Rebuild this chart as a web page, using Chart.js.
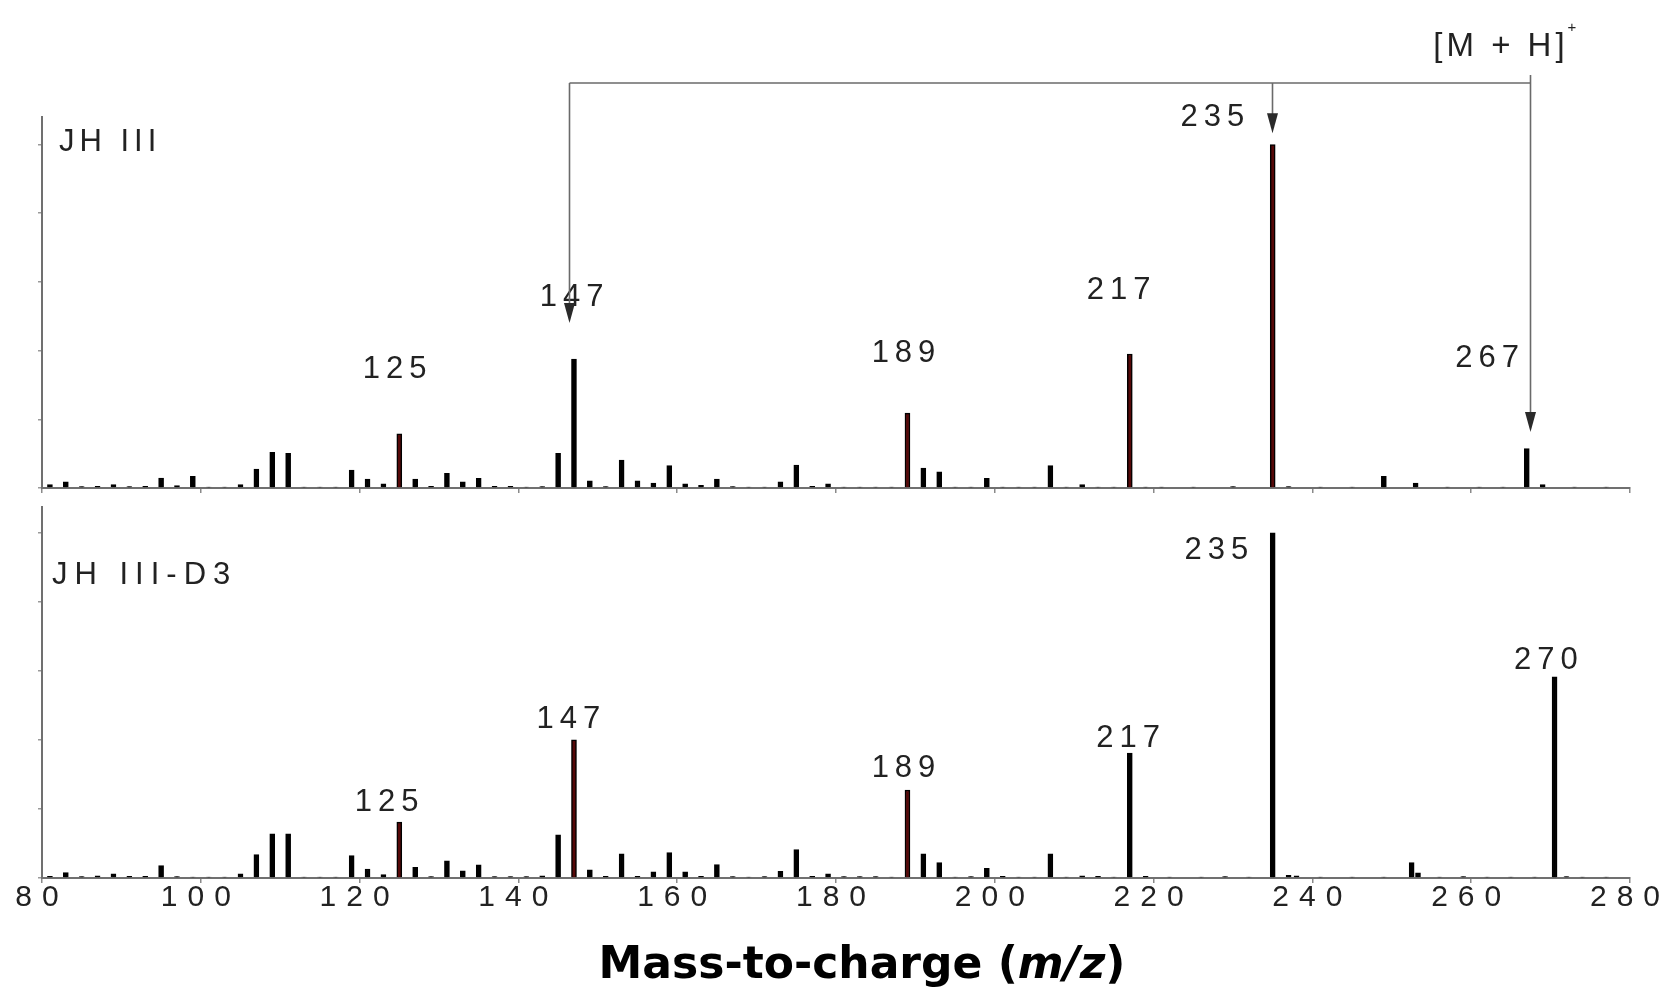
<!DOCTYPE html>
<html><head><meta charset="utf-8">
<script src="https://cdn.jsdelivr.net/npm/chart.js@4.4.1/dist/chart.umd.min.js"></script>
<style>
html,body{margin:0;padding:0;background:#fff;}
#wrap{position:relative;width:1670px;height:990px;overflow:hidden;background:#fff;}
canvas{position:absolute;left:0;}
#cTop{top:0;} #cBot{top:495px;}
</style></head><body>
<div id="wrap"><canvas id="cTop" width="1670" height="495"></canvas><canvas id="cBot" width="1670" height="495"></canvas></div>
<script>
// ---------- DATA ----------
const xTickValues = [80,100,120,140,160,180,200,220,240,260,280];
const xTickLabels = ['80','100','120','140','160','180','200','220','240','260','280'];

// JH III spectrum (relative intensity, base peak 235 = 100)
const mzTop = [81,83,85,87,89,91,93,95,97,99,101,103,105,107,109,111,113,115,117,119,
  121,123,125,127,129,131,133,135,137,139,141,143,145,147,149,151,153,155,157,159,
  161,163,165,167,169,171,173,175,177,179,181,183,185,187,189,191,193,195,197,199,
  201,203,205,207,209,211,213,215,217,219,
  221,225,230,235,237,241,245,249,253,257,261,264,267,269,273,277];
const intTop = [1.0,1.8,0.4,0.5,1.0,0.4,0.5,2.9,0.7,3.4,0.3,0.3,1.0,5.5,10.4,10.1,0.3,0.3,0.3,5.2,
  2.6,1.2,15.8,2.6,0.5,4.3,1.8,2.8,0.5,0.5,0.3,0.4,10.1,37.5,2.1,0.4,8.1,2.1,1.4,6.5,
  1.2,0.8,2.6,0.4,0.3,0.3,1.8,6.7,0.5,1.2,0.3,0.3,0.3,0.3,21.8,5.8,4.7,0.3,0.3,2.8,
  0.3,0.3,0.3,6.5,0.3,1.0,0.3,0.3,39.0,0.3,
  0.3,0.3,0.4,100,0.4,0.3,0.3,3.4,1.4,0.3,0.3,0.3,11.5,1.0,0.3,0.3];

// JH III-D3 spectrum
const mzBottom = [81,83,85,87,89,91,93,95,97,99,101,103,105,107,109,111,113,115,117,119,
  121,123,125,127,129,131,133,135,137,139,141,143,145,147,149,151,153,155,157,159,
  161,163,165,167,169,171,173,175,177,179,181,183,185,187,189,191,193,195,197,199,
  201,203,205,207,209,211,213,215,217,219,
  222,226,229,232,235,237,238,241,245,249,252.5,253.3,256,259,262,265,268,270.5,272,274,277];
const intBottom = [0.5,1.6,0.4,0.6,1.2,0.5,0.5,3.6,0.4,0.3,0.3,0.3,1.2,6.8,12.8,12.8,0.3,0.3,0.3,6.5,
  2.6,1.0,16.2,3.1,0.4,5.0,2.1,3.8,0.4,0.4,0.4,0.6,12.5,40.0,2.4,0.5,7.0,0.5,1.8,7.4,
  1.8,0.5,3.9,0.4,0.3,0.4,1.9,8.2,0.5,1.2,0.4,0.4,0.4,0.3,25.5,7.0,4.5,0.3,0.4,2.8,
  0.5,0.3,0.3,7.0,0.3,0.6,0.5,0.3,36.2,0.5,
  0.3,0.3,0.4,0.3,100,0.8,0.6,0.3,0.3,0.3,4.5,1.5,0.3,0.4,0.3,0.3,0.3,58.3,0.4,0.3,0.3];

// peaks drawn with a dark-red core
const redTop = [125,189,217,235];
const redBottom = [125,147,189];

// peak labels (text, m/z of label centre, intensity level of label centre)
const labTopText = ['125','147','189','217','235','267'];
const labTopX    = [124.4,146.7,188.5,215.6,227.4,262.0];
const labTopY    = [34.4,55.6,39.3,57.4,108.0,37.8];
const labBotText = ['125','147','189','217','235','270'];
const labBotX    = [123.4,146.3,188.5,216.8,227.9,269.4];
const labBotY    = [22.0,45.8,31.6,40.3,94.8,62.9];

const nameTop = 'JH III';
const nameBottom = 'JH III-D3';
const ionLabel = '[M + H]';
const ionCharge = '+';
const xTitleParts = ['Mass-to-charge (', 'm/z', ')'];

// bracket connecting 235 and 267 to 147 ([M+H]+ fragmentation)
const bracketMz   = [146.4, 234.9, 267.4];
const bracketTipY = [48.0, 103.3, 16.3];
const bracketBarY = 117.9;
const bracketRightTopY = 120.2;

// ---------- DRAWING ----------
const TXT = '#222';
function spaced(ctx, txt, x, y, font, sp, align){
  ctx.font = font;
  ctx.letterSpacing = sp + 'px';
  ctx.textAlign = align;
  ctx.textBaseline = 'middle';
  ctx.fillText(txt, align === 'center' ? x + sp/2 : x, y);
  ctx.letterSpacing = '0px';
}
function arrowDown(ctx, x, tip){
  ctx.beginPath();
  ctx.moveTo(x - 5.5, tip - 20);
  ctx.lineTo(x + 5.5, tip - 20);
  ctx.lineTo(x, tip);
  ctx.closePath();
  ctx.fill();
}

function makeOptions(cfg){
  return {
    responsive:false, animation:false, devicePixelRatio:1,
    layout:{padding:{top:cfg.padTop, right:40, left:0, bottom:0}},
    plugins:{legend:{display:false}, tooltip:{enabled:false}, title:{display:false}},
    scales:{
      x:{type:'linear', min:80, max:280, offset:false,
        afterBuildTicks: s => { s.ticks = xTickValues.map(v => ({value:v})); },
        ticks:{display:cfg.showLabels, autoSkip:false, maxRotation:0, minRotation:0, color:TXT,
          font:{family:'Liberation Sans', size:30, lineHeight:1}, padding:0,
          callback: v => xTickLabels[xTickValues.indexOf(v)]},
        grid:{display:true, drawOnChartArea:false, drawTicks:true, tickLength:5, color:'#8a8a8a', lineWidth:1.5, offset:false},
        border:{display:true, color:'#707070', width:2},
        afterFit: s => { s.height = cfg.xHeight; }
      },
      y:{type:'linear', min:0, max:cfg.yMax,
        ticks:{display:false, stepSize:20, includeBounds:false},
        grid:{display:true, drawOnChartArea:false, drawTicks:true, tickLength:4, color:'#9a9a9a', lineWidth:1.5},
        border:{display:true, color:'#707070', width:2},
        afterFit: s => { s.width = 42; }
      }
    }
  };
}

function dataset(mz, inten, reds){
  return {
    type:'bar',
    data: mz.map((m,i) => ({x:m, y:inten[i]})),
    barThickness:5,
    backgroundColor: c => (c.raw && reds.includes(c.raw.x)) ? '#560808' : '#000',
    borderColor:'#000', borderWidth:1.5, borderSkipped:'start'
  };
}

const topPlugin = {
  id:'topAnno',
  afterDraw(chart){
    const ctx = chart.ctx, xs = chart.scales.x, ys = chart.scales.y;
    ctx.save();
    ctx.fillStyle = TXT;
    spaced(ctx, nameTop, 59, ys.getPixelForValue(100.7), '31px "Liberation Sans"', 5, 'left');
    labTopText.forEach((t,i) => spaced(ctx, t, xs.getPixelForValue(labTopX[i]), ys.getPixelForValue(labTopY[i]), '31px "Liberation Sans"', 6, 'center'));
    const ionX = xs.getPixelForValue(263.5), ionY = ys.getPixelForValue(128.4);
    const ionFont = '33px "Liberation Sans"', ionSp = 4;
    spaced(ctx, ionLabel, ionX, ionY, ionFont, ionSp, 'center');
    ctx.font = ionFont; ctx.letterSpacing = ionSp + 'px';
    const w = ctx.measureText(ionLabel).width;
    ctx.letterSpacing = '0px';
    spaced(ctx, ionCharge, ionX + w/2 + 1, ionY - 19, '15px "Liberation Sans"', 0, 'left');
    // bracket
    ctx.strokeStyle = '#6a6a6a'; ctx.lineWidth = 1.6; ctx.fillStyle = '#2a2a2a';
    const yb = ys.getPixelForValue(bracketBarY);
    const px = bracketMz.map(m => Math.round(xs.getPixelForValue(m)) + 0.5);
    ctx.beginPath(); ctx.moveTo(px[0], yb); ctx.lineTo(px[2], yb); ctx.stroke();
    px.forEach((x,i) => {
      const tip = ys.getPixelForValue(bracketTipY[i]);
      const top = i === 2 ? ys.getPixelForValue(bracketRightTopY) : yb;
      ctx.beginPath(); ctx.moveTo(x, top); ctx.lineTo(x, tip - 18); ctx.stroke();
      arrowDown(ctx, x, tip);
    });
    ctx.restore();
  }
};

const botPlugin = {
  id:'botAnno',
  beforeDraw(chart){ chart.ctx.letterSpacing = '10px'; },
  beforeDatasetsDraw(chart){ chart.ctx.letterSpacing = '0px'; },
  afterDraw(chart){
    const ctx = chart.ctx, xs = chart.scales.x, ys = chart.scales.y;
    ctx.save();
    ctx.fillStyle = TXT;
    spaced(ctx, nameBottom, 52, ys.getPixelForValue(87.8), '31px "Liberation Sans"', 7, 'left');
    labBotText.forEach((t,i) => spaced(ctx, t, xs.getPixelForValue(labBotX[i]), ys.getPixelForValue(labBotY[i]), '31px "Liberation Sans"', 6, 'center'));
    // axis title
    const fN = 'bold 44px "DejaVu Sans"', fI = 'italic bold 44px "DejaVu Sans"';
    ctx.fillStyle = '#000';
    ctx.textBaseline = 'alphabetic'; ctx.textAlign = 'left'; ctx.letterSpacing = '0px';
    const fonts = [fN, fI, fN];
    const widths = xTitleParts.map((p,i) => { ctx.font = fonts[i]; return ctx.measureText(p).width; });
    const total = widths.reduce((a,b) => a+b, 0);
    let x = 862 - total/2;
    const yT = 483;
    xTitleParts.forEach((p,i) => { ctx.font = fonts[i]; ctx.fillText(p, x, yT); x += widths[i]; });
    ctx.restore();
  }
};

new Chart(document.getElementById('cTop'), {
  data:{datasets:[dataset(mzTop, intTop, redTop)]},
  options: makeOptions({padTop:117, xHeight:7, yMax:108, showLabels:false}),
  plugins:[topPlugin]
});
new Chart(document.getElementById('cBot'), {
  data:{datasets:[dataset(mzBottom, intBottom, redBottom)]},
  options: makeOptions({padTop:12, xHeight:112, yMax:107.5, showLabels:true}),
  plugins:[botPlugin]
});
</script>
</body></html>
